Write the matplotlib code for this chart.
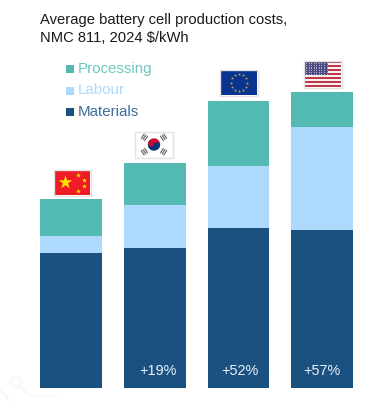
import numpy as np
import matplotlib
matplotlib.use("Agg")
import matplotlib.pyplot as plt
from matplotlib.patches import Rectangle, Circle, Wedge

plt.rcParams['font.family'] = ['Liberation Sans', 'DejaVu Sans']

countries = ["China", "South Korea", "EU", "US"]
materials = [45.0, 46.7, 53.3, 52.7]
labour = [5.7, 14.3, 20.7, 34.3]
processing = [12.3, 14.0, 21.7, 11.8]
premium = ["", "+19%", "+52%", "+57%"]
legend_names = ["Processing", "Labour", "Materials"]

DARK = "#1A5180"
LIGHT = "#ADD9FD"
TEAL = "#52BAB3"
legend_text_cols = ["#6CC8C0", "#ADD9FD", "#3D6E99"]
legend_box_cols = [TEAL, LIGHT, DARK]


def rect(ax, x0, y0, x1, y1, col, z=5, **kw):
    ax.add_patch(Rectangle((x0, y0), x1 - x0, y1 - y0, facecolor=col, edgecolor="none", zorder=z, **kw))


def china_flag(ax, x0, y0, x1, y1):
    rect(ax, x0, y0, x1, y1, "#EE1C25")
    ax.scatter([x0 + 10.5], [y0 + 12], marker="*", s=105, color="#FFE000", linewidths=0, zorder=6)
    ax.scatter(np.array([24, 30, 30, 24]) + x0, np.array([4.5, 9.5, 16, 21]) + y0, marker="*", s=14, color="#FFE000", linewidths=0, zorder=6)


def korea_flag(ax, x0, y0, x1, y1):
    rect(ax, x0, y0, x1, y1, "white")
    cx, cy = (x0 + x1) / 2, (y0 + y1) / 2
    # y axis is flipped here, so the wedge angles read upside down
    ax.add_patch(Wedge((cx, cy), 6.2, 200, 20, facecolor="#C60C30", edgecolor="none", zorder=6))
    ax.add_patch(Wedge((cx, cy), 6.2, 20, 200, facecolor="#003478", edgecolor="none", zorder=6))
    dx, dy = 2.9 * np.cos(np.radians(20)), 2.9 * np.sin(np.radians(20))
    ax.add_patch(Circle((cx - dx, cy - dy), 3.1, facecolor="#C60C30", edgecolor="none", zorder=7))
    ax.add_patch(Circle((cx + dx, cy + dy), 3.1, facecolor="#003478", edgecolor="none", zorder=7))
    for sx, sy in [(-1, -1), (1, -1), (-1, 1), (1, 1)]:
        ang = np.arctan2(sy * 8, sx * 12)
        px, py = cx + sx * 9.6, cy + sy * 7.2
        for off in (-2, 0, 2):
            mx, my = px + off * np.cos(ang), py + off * np.sin(ang)
            tx, ty = -np.sin(ang) * 3, np.cos(ang) * 3
            ax.plot([mx - tx, mx + tx], [my - ty, my + ty], color="#666666", lw=0.85, zorder=6, solid_capstyle="butt")


def eu_flag(ax, x0, y0, x1, y1):
    rect(ax, x0, y0, x1, y1, "#0A3490")
    cx, cy = (x0 + x1) / 2, (y0 + y1) / 2
    ang = np.arange(12) * np.pi / 6
    ax.scatter(cx + 8.2 * np.cos(ang), cy + 8.2 * np.sin(ang), marker="*", s=5, color="#D8B020", linewidths=0, zorder=6)


def us_flag(ax, x0, y0, x1, y1):
    h = (y1 - y0) / 13
    for i in range(13):
        rect(ax, x0, y0 + i * h, x1, y0 + (i + 1) * h, "#C0394B" if i % 2 == 0 else "#F6F0F0")
    cw = (x1 - x0) * 0.64
    rect(ax, x0, y0, x0 + cw, y0 + 7 * h, "#4C4C80", z=6)
    for r in range(7):
        for c in range(9):
            ax.plot(x0 + 1.6 + c * 2.55, y0 + 1.2 + r * 1.85 * h / 1.9, ".", ms=1.2, mew=0, color="#C8C8DC", zorder=7)


fig = plt.figure(figsize=(3.72, 4.01), dpi=100)

# bars: one unit on x is one category step
ax = fig.add_axes([0, 0, 1, 1])
ax.set_xlim(-71.25 / 83.6, (372 - 71.25) / 83.6)
ax.set_ylim(-13 / 3, 388 / 3)
ax.axis("off")

x = np.arange(len(countries))
materials = np.array(materials)
labour = np.array(labour)
processing = np.array(processing)
ax.bar(x, materials, width=0.74, color=DARK, zorder=3)
ax.bar(x, labour, width=0.74, bottom=materials, color=LIGHT, zorder=3)
ax.bar(x, processing, width=0.74, bottom=materials + labour, color=TEAL, zorder=3)

# everything else is placed in picture pixels
ov = fig.add_axes([0, 0, 1, 1], facecolor="none")
ov.set_xlim(0, 372)
ov.set_ylim(401, 0)
ov.axis("off")

ov.text(40.5, 24, "Average battery cell production costs,", fontsize=10.65, color="#1a1a1a", va="baseline")
ov.text(40.5, 42, "NMC 811, 2024 $/kWh", fontsize=10.65, color="#1a1a1a", va="baseline")

for name, tc, bc, y in zip(legend_names, legend_text_cols, legend_box_cols, [68.5, 90.5, 112]):
    rect(ov, 66, y - 4, 74, y + 4, bc)
    ov.text(77.5, y, name, fontsize=10.9, color=tc, va="center")

for lab, px in zip(premium, [71, 157.5, 240, 322]):
    if lab:
        ov.text(px, 371, lab, fontsize=10.4, color="#EAF2F8", ha="center", va="center", zorder=8)

flags = [(china_flag, 54, 170, 90, 195), (korea_flag, 135.5, 132, 172.5, 157),
         (eu_flag, 220.5, 70, 257, 95), (us_flag, 304.5, 61.5, 341, 87)]
for draw, x0, y0, x1, y1 in flags:
    ov.add_patch(Rectangle((x0 - 0.5, y0 - 0.5), x1 - x0 + 1, y1 - y0 + 1, facecolor="none", edgecolor="#E2E2E2", lw=1, zorder=9))
    draw(ov, x0, y0, x1, y1)

# faint watermark in the corner
ov.add_patch(Circle((16, 382), 5, facecolor="none", edgecolor="#F8F9FA", lw=2, zorder=1))
ov.plot([20, 30, 56], [386, 396, 396], color="#F8F9FA", lw=2, zorder=1)
ov.plot([0, 10], [390, 401], color="#F8F9FA", lw=2, zorder=1)

fig.savefig("out.png", dpi=100)
